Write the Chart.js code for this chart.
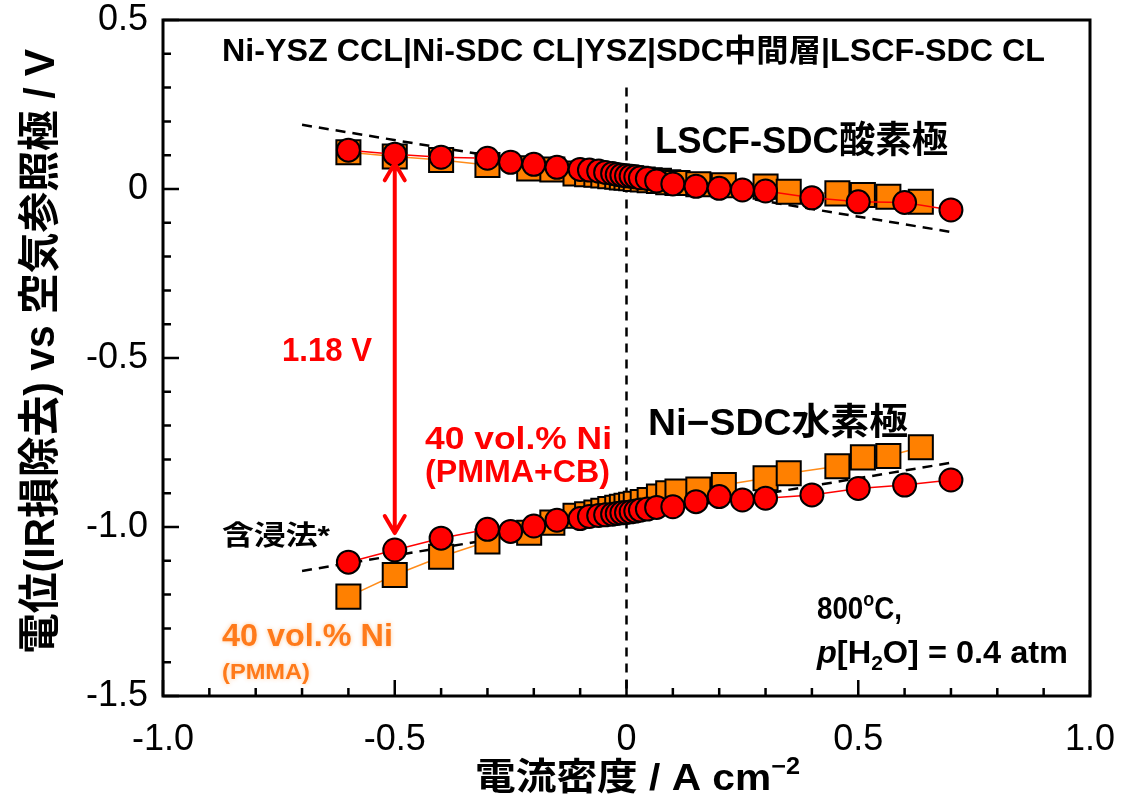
<!DOCTYPE html>
<html>
<head>
<meta charset="utf-8">
<title>電位 vs 電流密度</title>
<script src="https://cdn.jsdelivr.net/npm/chart.js@4.4.1/dist/chart.umd.min.js"></script>
<style>
  body { margin: 0; background: #fff; }
  #wrap { width: 1134px; height: 809px; }
</style>
</head>
<body>
<div id="wrap"><canvas id="myChart" width="1134" height="809"></canvas></div>
<script>
  // current density points, 40 vol.% Ni (PMMA+CB) - red circles
  const cbX = [-0.6, -0.5, -0.4, -0.3, -0.25, -0.2, -0.15, -0.1, -0.08, -0.06, -0.045, -0.03, -0.02, -0.01, 0,
               0.01, 0.02, 0.03, 0.045, 0.065, 0.1, 0.15, 0.2, 0.25, 0.3, 0.4, 0.5, 0.6, 0.7];
  const cbCathode = [0.115, 0.103, 0.094, 0.091, 0.079, 0.073, 0.064, 0.058, 0.056, 0.053, 0.049, 0.046, 0.043, 0.041, 0.039,
                     0.038, 0.036, 0.033, 0.031, 0.024, 0.015, 0.008, 0.002, -0.003, -0.006, -0.026, -0.038, -0.040, -0.062];
  const cbAnode = [-1.104, -1.068, -1.033, -1.007, -1.013, -0.997, -0.980, -0.975, -0.969, -0.966, -0.964, -0.962, -0.960, -0.958, -0.957,
                   -0.955, -0.953, -0.950, -0.947, -0.942, -0.940, -0.925, -0.910, -0.920, -0.915, -0.905, -0.886, -0.876, -0.861];

  // 40 vol.% Ni (PMMA) - orange squares
  const pmmaX = [-0.6, -0.5, -0.4, -0.3, -0.21, -0.16, -0.11, -0.085, -0.065, -0.05, -0.035, -0.02, -0.01, 0,
                 0.01, 0.02, 0.035, 0.05, 0.07, 0.09, 0.11, 0.155, 0.21, 0.3, 0.35, 0.455, 0.51, 0.565, 0.635];
  const pmmaCathode = [0.109, 0.096, 0.086, 0.071, 0.061, 0.058, 0.046, 0.044, 0.042, 0.040, 0.038, 0.036, 0.034, 0.033,
                       0.032, 0.030, 0.028, 0.026, 0.024, 0.020, 0.018, 0.014, 0.011, 0.007, -0.008, -0.013, -0.018, -0.023, -0.038];
  const pmmaAnode = [-1.206, -1.142, -1.088, -1.043, -1.017, -0.987, -0.967, -0.962, -0.957, -0.952, -0.947, -0.943, -0.940, -0.937,
                     -0.934, -0.931, -0.926, -0.920, -0.910, -0.900, -0.895, -0.889, -0.876, -0.856, -0.841, -0.820, -0.794, -0.790, -0.764];

  // impregnation (含浸法) reference lines
  const guideX = [-0.7, 0.7];
  const guideCathode = [0.19, -0.127];
  const guideAnode = [-1.13, -0.81];

  // OCV gap arrow
  const arrowX = -0.5;
  const arrowY = [0.076, -1.018];

  const xTicks = [-1.0, -0.5, 0, 0.5, 1.0];
  const yTicks = [-1.5, -1.0, -0.5, 0, 0.5];

  const FONT = "'Liberation Sans', 'Noto Sans CJK JP', Arial, sans-serif";
  const RED = '#ff0000';
  const ORANGE = '#ff8000';
  const ORANGE_TXT = '#ff7a1a';

  function pts(xs, ys) {
    return xs.map((x, i) => ({ x: x, y: ys[i] }));
  }

  function fitText(ctx, text, left, width, cy, font, color) {
    ctx.save();
    ctx.font = font;
    ctx.fillStyle = color;
    ctx.textBaseline = 'middle';
    ctx.textAlign = 'left';
    const w = ctx.measureText(text).width;
    ctx.translate(left, cy);
    ctx.scale(width / w, 1);
    ctx.fillText(text, 0, 0);
    ctx.restore();
  }

  // pieces: [{t, font, dy}]
  function richText(ctx, pieces, left, width, cy, color) {
    ctx.save();
    ctx.fillStyle = color;
    ctx.textBaseline = 'middle';
    ctx.textAlign = 'left';
    let total = 0;
    pieces.forEach(p => { ctx.font = p.font; total += ctx.measureText(p.t).width; });
    ctx.translate(left, cy);
    ctx.scale(width / total, 1);
    let x = 0;
    pieces.forEach(p => {
      ctx.font = p.font;
      ctx.fillText(p.t, x, p.dy || 0);
      x += ctx.measureText(p.t).width;
    });
    ctx.restore();
  }

  const decor = {
    id: 'decor',
    afterDraw(chart) {
      const ctx = chart.ctx;
      const a = chart.chartArea;
      const xs = chart.scales.x, ys = chart.scales.y;

      // frame
      ctx.save();
      ctx.strokeStyle = '#000';
      ctx.lineWidth = 3;
      ctx.strokeRect(a.left, a.top, a.right - a.left, a.bottom - a.top);

      // inward ticks, bottom and left
      ctx.lineWidth = 2.5;
      ctx.beginPath();
      for (let i = -10; i <= 10; i++) {
        const px = xs.getPixelForValue(i / 10);
        const len = (i % 5 === 0) ? 16 : 8;
        ctx.moveTo(px, a.bottom);
        ctx.lineTo(px, a.bottom - len);
      }
      for (let i = -15; i <= 5; i++) {
        const py = ys.getPixelForValue(i / 10);
        const len = (i % 5 === 0) ? 16 : 8;
        ctx.moveTo(a.left, py);
        ctx.lineTo(a.left + len, py);
      }
      ctx.stroke();

      // double arrow
      const ax = xs.getPixelForValue(arrowX);
      const ay1 = ys.getPixelForValue(arrowY[0]);
      const ay2 = ys.getPixelForValue(arrowY[1]);
      ctx.strokeStyle = RED;
      ctx.lineWidth = 4;
      ctx.lineCap = 'round';
      ctx.lineJoin = 'round';
      ctx.beginPath();
      ctx.moveTo(ax, ay1 + 2);
      ctx.lineTo(ax, ay2 - 2);
      ctx.moveTo(ax - 10, ay1 + 17);
      ctx.lineTo(ax, ay1);
      ctx.lineTo(ax + 10, ay1 + 17);
      ctx.moveTo(ax - 10, ay2 - 17);
      ctx.lineTo(ax, ay2);
      ctx.lineTo(ax + 10, ay2 - 17);
      ctx.stroke();
      ctx.restore();

      const B = (s) => 'bold ' + s + 'px ' + FONT;

      fitText(ctx, 'Ni-YSZ CCL|Ni-SDC CL|YSZ|SDC中間層|LSCF-SDC CL', 222, 823, 52, B(31), '#000');
      fitText(ctx, 'LSCF-SDC酸素極', 655, 293, 143, B(37), '#000');
      fitText(ctx, 'Ni−SDC水素極', 648, 260, 425, B(37), '#000');
      fitText(ctx, '1.18 V', 282, 90, 352, B(34), RED);
      fitText(ctx, '40 vol.% Ni', 425, 187, 440, B(32), RED);
      fitText(ctx, '(PMMA+CB)', 425, 185, 473, B(32), RED);
      fitText(ctx, '含浸法*', 222, 108, 538, B(27), '#000');

      ctx.save();
      ctx.shadowColor = 'rgba(255,140,40,0.45)';
      ctx.shadowBlur = 4;
      fitText(ctx, '40 vol.% Ni', 222, 171, 637, B(32), ORANGE_TXT);
      fitText(ctx, '(PMMA)', 222, 88, 673, B(22), ORANGE_TXT);
      ctx.restore();

      richText(ctx, [
        { t: '800', font: B(31) },
        { t: 'o', font: B(20), dy: -10 },
        { t: 'C,', font: B(31) }
      ], 817, 85, 610, '#000');
      richText(ctx, [
        { t: 'p', font: 'italic ' + B(31) },
        { t: '[H', font: B(31) },
        { t: '2', font: B(20), dy: 10 },
        { t: 'O] = 0.4 atm', font: B(31) }
      ], 817, 251, 654, '#000');

      // axis titles
      ctx.save();
      ctx.translate(42, 352);
      ctx.rotate(-Math.PI / 2);
      fitText(ctx, '電位(IR損除去) vs 空気参照極 / V', -302, 605, 0, B(42), '#000');
      ctx.restore();

      richText(ctx, [
        { t: '電流密度 / A cm', font: B(37) },
        { t: '−2', font: B(23), dy: -12 }
      ], 475, 325, 780, '#000');
    }
  };

  const ctx = document.getElementById('myChart');

  const myChart = new Chart(ctx, {
    type: 'scatter',
    data: {
      datasets: [
        { label: 'zero', data: [{ x: 0, y: 0.3 }, { x: 0, y: -1.5 }], showLine: true,
          borderColor: '#000', borderWidth: 2.5, borderDash: [9, 7], pointRadius: 0, order: 5 },
        { label: '含浸法 cathode', data: pts(guideX, guideCathode), showLine: true,
          borderColor: '#000', borderWidth: 2.5, borderDash: [10, 7], pointRadius: 0, order: 4 },
        { label: '含浸法 anode', data: pts(guideX, guideAnode), showLine: true,
          borderColor: '#000', borderWidth: 2.5, borderDash: [10, 7], pointRadius: 0, order: 4 },
        { label: 'PMMA cathode', data: pts(pmmaX, pmmaCathode), showLine: true,
          borderColor: '#ff8c1a', borderWidth: 1.5, pointStyle: 'rect', pointRadius: 17,
          pointBackgroundColor: ORANGE, pointBorderColor: '#000', pointBorderWidth: 2, order: 2 },
        { label: 'PMMA anode', data: pts(pmmaX, pmmaAnode), showLine: true,
          borderColor: '#ff8c1a', borderWidth: 1.5, pointStyle: 'rect', pointRadius: 17,
          pointBackgroundColor: ORANGE, pointBorderColor: '#000', pointBorderWidth: 2, order: 2 },
        { label: 'PMMA+CB cathode', data: pts(cbX, cbCathode), showLine: true,
          borderColor: RED, borderWidth: 1.5, pointStyle: 'circle', pointRadius: 11.5,
          pointBackgroundColor: RED, pointBorderColor: '#000', pointBorderWidth: 2, order: 1 },
        { label: 'PMMA+CB anode', data: pts(cbX, cbAnode), showLine: true,
          borderColor: RED, borderWidth: 1.5, pointStyle: 'circle', pointRadius: 11.5,
          pointBackgroundColor: RED, pointBorderColor: '#000', pointBorderWidth: 2, order: 1 }
      ]
    },
    options: {
      responsive: false,
      animation: false,
      layout: { padding: { left: 0, top: 20, right: 44, bottom: 0 } },
      plugins: { legend: { display: false }, tooltip: { enabled: false } },
      scales: {
        x: {
          type: 'linear', min: -1, max: 1,
          afterFit: (s) => { s.height = 113; s.paddingLeft = 0; s.paddingRight = 0; },
          afterBuildTicks: (s) => { s.ticks = xTicks.map(v => ({ value: v })); },
          grid: { display: false, drawTicks: false },
          border: { display: false },
          ticks: {
            color: '#000', padding: 22, maxRotation: 0,
            font: { family: FONT, size: 36 },
            callback: (v) => v === 0 ? '0' : v.toFixed(1)
          }
        },
        y: {
          type: 'linear', min: -1.5, max: 0.5,
          afterFit: (s) => { s.width = 163; s.paddingTop = 0; s.paddingBottom = 0; },
          afterBuildTicks: (s) => { s.ticks = yTicks.map(v => ({ value: v })); },
          grid: { display: false, drawTicks: false },
          border: { display: false },
          ticks: {
            color: '#000', padding: 15,
            font: { family: FONT, size: 36 },
            callback: (v) => v === 0 ? '0' : v.toFixed(1)
          }
        }
      }
    },
    plugins: [decor]
  });
</script>
</body>
</html>
